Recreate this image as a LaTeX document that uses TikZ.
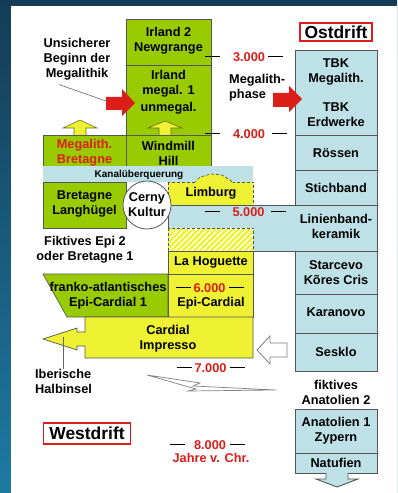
\documentclass[tikz,border=0pt]{standalone}
\usepackage{fontspec}
\setmainfont{Liberation Sans}
\usetikzlibrary{patterns.meta}
\definecolor{frametop}{RGB}{20,60,86}
\definecolor{framebottom}{RGB}{30,122,162}
\definecolor{megagreen}{RGB}{153,204,0}
\definecolor{cardyellow}{RGB}{238,242,50}
\definecolor{driftblue}{RGB}{189,225,230}
\definecolor{yearred}{RGB}{220,30,25}
\definecolor{edgegray}{RGB}{85,85,85}
\newcommand{\jdash}{\rule[3.9bp]{15bp}{1.6bp}}
\begin{document}
\begin{tikzpicture}[x=1bp,y=-1bp]

    \tikzset{
      txt/.style={
        font=\fontsize{12.8}{15}\selectfont\bfseries,
        align=center,
        inner sep=0pt,
      },
      greenbox/.style={draw=edgegray, fill=megagreen, line width=0.7bp},
      yelbox/.style={draw=edgegray, fill=cardyellow, line width=0.7bp},
      bluebox/.style={draw=edgegray, fill=driftblue, line width=0.9bp},
      redarrow/.style={fill=yearred},
      uparrow/.style={draw=black!55!cardyellow, fill=cardyellow, line width=0.6bp},
      pointer/.style={draw=black!60, line width=0.6bp},
      driftlabel/.style={draw=yearred, fill=white, line width=1.3bp, inner sep=0pt,
        font=\fontsize{17.5}{20}\selectfont\bfseries},
    }
    \useasboundingbox (0,0) rectangle (397,493);
    \shade[top color=frametop, bottom color=framebottom] (0,0) rectangle (397,493);
    \fill[white] (11,6) rectangle (397,493);

    \draw[greenbox] (126,19) rectangle (211,65);
    \draw[greenbox] (126,65) rectangle (211,135);
    \draw[greenbox] (126,135) rectangle (211,166);
    \draw[greenbox] (43,135) rectangle (126,166);
    \fill[driftblue] (43,166) rectangle (253,182);
    \draw[greenbox] (43,182) rectangle (126,228);
    \draw[bluebox] (168,205) rectangle (377,251);
    \draw[yelbox, densely dashed] (168,182) rectangle (253,205);
    \draw[yelbox, densely dashed] (194,183) -- (200,177) -- (211,174) -- (222,175) -- (230,180) -- (233,183);
    \fill[cardyellow] (168,228) rectangle (253,251);
    \fill[pattern={Lines[angle=45,distance=4bp,line width=1.3bp]}, pattern color=white] (168,228) rectangle (253,251);
    \draw[edgegray, densely dashed, line width=0.7bp] (168,228) rectangle (253,251);
    \draw[yelbox] (168,251) rectangle (253,274);
    \draw[yelbox] (168,274) rectangle (253,317);
    \draw[greenbox] (43,274) -- (168,274) -- (168,317) -- (67,317) -- cycle;
    \draw[yelbox] (253,317) -- (85,317) -- (85,332) -- (77,332) -- (77,328) -- (43,339)
      -- (77,350) -- (77,346) -- (85,346) -- (85,358) -- (253,358) -- cycle;

    \draw[bluebox] (295,50) rectangle (377,135);
    \draw[bluebox] (295,135) rectangle (377,170);
    \draw[bluebox] (295,170) rectangle (377,205);
    \draw[bluebox] (295,251) rectangle (377,294);
    \draw[bluebox] (295,294) rectangle (377,333);
    \draw[bluebox] (295,333) rectangle (377,371);
    \draw[bluebox] (295,409) rectangle (377,453);
    \draw[bluebox] (295,453) rectangle (377,473);
    \draw[bluebox] (326,473) -- (326,479) -- (316,479) -- (337,487) -- (358,479) -- (348,479) -- (348,473);

    \draw[uparrow] (74,135) -- (74,128) -- (63,128) -- (80,120) -- (97,128) -- (86,128) -- (86,135);
    \draw[uparrow] (159,135) -- (159,128) -- (148,128) -- (165,121) -- (182,128) -- (171,128) -- (171,135);
    \fill[redarrow] (106,97) -- (122,97) -- (122,89) -- (135,103) -- (122,116) -- (122,110) -- (106,110) -- cycle;
    \fill[redarrow] (273,93) -- (289,93) -- (289,86) -- (302,99) -- (289,112) -- (289,107) -- (273,107) -- cycle;
    \draw[draw=black!50, fill=white, line width=0.8bp] (257,350) -- (270,336) -- (270,343) -- (287,343)
      -- (287,357) -- (270,357) -- (270,364) -- cycle;
    \draw[draw=black!50, fill=white, line width=0.7bp] (147,375) -- (200,383) -- (193,386) -- (276,390)
      -- (188,391) -- (196,389) -- cycle;

    \node[circle, draw=edgegray, fill=white, line width=0.8bp, minimum size=48bp, txt] (cerny) at (147,205) {Cerny\\Kultur};

    \node[txt] (irland2) at (168.5,40.5) {Irland 2\\Newgrange};
    \node[txt] (irland1) at (168.5,92) {Irland\\megal. 1\\[2bp]unmegal.};
    \node[txt] (windmill) at (168.5,153) {Windmill\\Hill};
    \node[txt, text=yearred] (megbret) at (84.5,153) {Megalith.\\Bretagne};
    \node[font=\fontsize{10}{12}\selectfont\bfseries, inner sep=0pt] (kanal) at (139,175) {Kanalüberquerung};
    \node[txt] (langhuegel) at (84.5,203.5) {Bretagne\\Langhügel};
    \node[txt] (limburg) at (211,193) {Limburg};
    \node[txt] (fiktepi) at (85,249.5) {Fiktives Epi 2\\oder Bretagne 1};
    \node[txt] (hoguette) at (211,262) {La Hoguette};
    \node[txt] (epicardial) at (211,303) {Epi-Cardial};
    \node[txt] (franko) at (108,295.5) {franko-atlantisches\\Epi-Cardial 1};
    \node[txt] (cardial) at (168,338.5) {Cardial\\Impresso};
    \node[txt, align=left, anchor=west] (iberisch) at (35,381) {Iberische\\Halbinsel};
    \node[txt] (unsicher) at (77,59.5) {Unsicherer\\Beginn der\\Megalithik};
    \node[txt, align=left, anchor=west] (megphase) at (229,87.5) {Megalith-\\phase};

    \node[txt] (jahr3) at (244,57) {\jdash\hspace{13bp}\textcolor{yearred}{3.000}\hspace{3bp}\jdash};
    \node[txt] (jahr4) at (246,134) {\jdash\hspace{13bp}\textcolor{yearred}{4.000}\hspace{7bp}\jdash};
    \node[txt] (jahr5) at (245.5,212) {\jdash\hspace{13bp}\textcolor{yearred}{5.000}\hspace{7bp}\jdash};
    \node[txt] (jahr6) at (210,288) {\jdash\hspace{3bp}\textcolor{yearred}{6.000}\hspace{4bp}\jdash};
    \node[txt] (jahr7) at (211,368) {\jdash\hspace{3bp}\textcolor{yearred}{7.000}\hspace{4bp}\jdash};
    \node[txt] (jahr8) at (207.5,445) {\jdash\hspace{9bp}\textcolor{yearred}{8.000}\hspace{4bp}\jdash};
    \node[txt, text=yearred] (jahre) at (211,458) {Jahre v. Chr.};

    \node[txt] (tbkmeg) at (336,71.5) {TBK\\Megalith.};
    \node[txt] (tbkerd) at (336,114.5) {TBK\\Erdwerke};
    \node[txt] (roessen) at (336,153) {Rössen};
    \node[txt] (stichband) at (336,187.5) {Stichband};
    \node[txt] (linienband) at (336,226.5) {Linienband-\\keramik};
    \node[txt] (starcevo) at (336,273) {Starcevo\\Kõres Cris};
    \node[txt] (karanovo) at (336,312.5) {Karanovo};
    \node[txt] (sesklo) at (336,351.5) {Sesklo};
    \node[txt] (fiktanat) at (336,392.5) {fiktives\\Anatolien 2};
    \node[txt] (anatolien) at (336,431) {Anatolien 1\\Zypern};
    \node[txt] (natufien) at (336,463) {Natufien};

    \node[driftlabel, minimum width=72bp, minimum height=18bp] (ostdrift) at (336,32) {Ostdrift};
    \node[driftlabel, minimum width=87bp, minimum height=21bp] (westdrift) at (87,433.5) {Westdrift};

    \coordinate (megtail) at (106,101);
    \coordinate (iberpt) at (63,337);
    \draw[pointer] ([xshift=-18bp,yshift=-4bp]unsicher.south) -- (megtail);
    \draw[pointer] (iberpt) -- (iberpt |- iberisch.north);

\end{tikzpicture}
\end{document}
